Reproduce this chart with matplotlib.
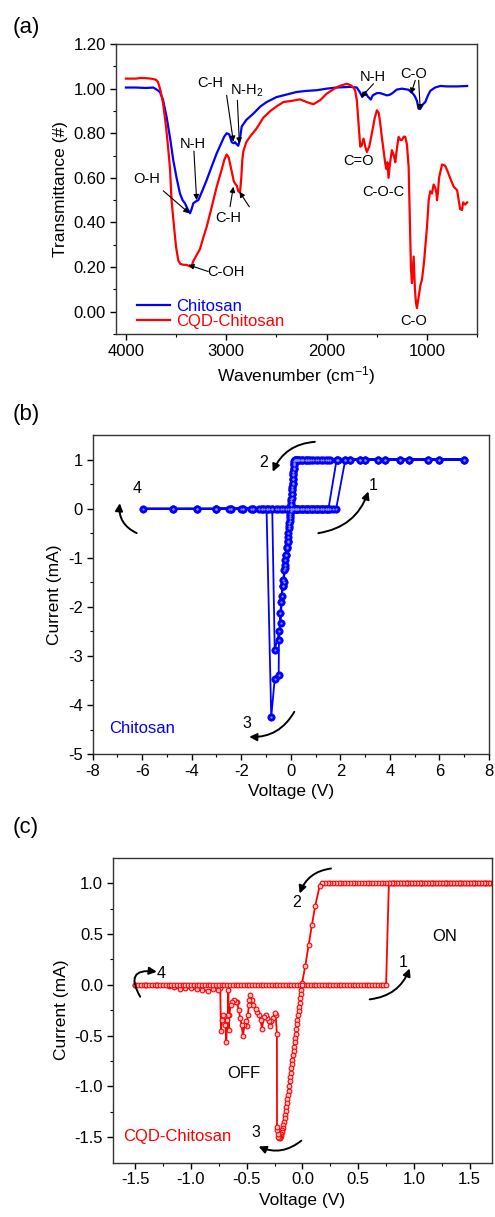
import numpy as np
import matplotlib.pyplot as plt

plt.rcParams['font.family'] = ['Liberation Sans', 'DejaVu Sans']
plt.rcParams['axes.unicode_minus'] = False
plt.rcParams['mathtext.fontset'] = 'custom'
plt.rcParams['mathtext.rm'] = 'Liberation Sans'
plt.rcParams['mathtext.it'] = 'Liberation Sans:italic'

# ---------------- (a) FTIR data ----------------
wn_chi = [4000, 3900, 3800, 3727, 3690, 3661, 3630, 3594, 3560, 3528, 3495, 3461, 3435, 3411,
          3385, 3361, 3345, 3328, 3300, 3278, 3240, 3195, 3150, 3095, 3050, 3020, 2996, 2970,
          2946, 2925, 2913, 2895, 2880, 2865, 2846, 2800, 2730, 2660, 2597, 2500, 2430, 2300,
          2200, 2098, 2000, 1900, 1765, 1700, 1670, 1645, 1630, 1616, 1590, 1560, 1540, 1499,
          1466, 1433, 1399, 1375, 1350, 1300, 1250, 1183, 1160, 1140, 1120, 1100, 1084, 1067,
          1040, 1017, 990, 967, 920, 867, 800, 700, 600]
t_chi = [1.005, 1.005, 1.003, 1.005, 0.995, 0.985, 0.95, 0.873, 0.78, 0.68, 0.60, 0.53, 0.50, 0.486,
         0.46, 0.441, 0.46, 0.486, 0.495, 0.50, 0.54, 0.59, 0.645, 0.71, 0.755, 0.785, 0.80, 0.795,
         0.76, 0.755, 0.76, 0.75, 0.744, 0.77, 0.83, 0.86, 0.888, 0.92, 0.94, 0.962, 0.97, 0.985,
         0.99, 0.993, 1.0, 1.005, 1.008, 1.005, 0.985, 0.963, 0.975, 0.985, 0.965, 0.951, 0.97, 0.98,
         0.98, 0.975, 0.97, 0.972, 0.978, 0.996, 1.0, 0.995, 0.985, 0.978, 0.965, 0.945, 0.91, 0.91,
         0.93, 0.94, 0.97, 0.99, 1.005, 1.012, 1.01, 1.01, 1.012]

wn_cqd = [4000, 3900, 3850, 3800, 3750, 3700, 3680, 3660, 3640, 3628, 3600, 3580, 3560, 3545,
          3520, 3500, 3478, 3460, 3445, 3420, 3400, 3370, 3345, 3330, 3300, 3262, 3230, 3195,
          3150, 3095, 3050, 3020, 2996, 2975, 2960, 2946, 2925, 2913, 2895, 2880, 2863, 2850,
          2840, 2829, 2800, 2763, 2700, 2630, 2560, 2500, 2430, 2350, 2264, 2200, 2131, 2060,
          1998, 1940, 1898, 1850, 1798, 1760, 1732, 1715, 1699, 1682, 1665, 1650, 1632, 1615,
          1599, 1575, 1549, 1520, 1499, 1480, 1466, 1449, 1433, 1416, 1405, 1395, 1383, 1370,
          1350, 1330, 1316, 1300, 1283, 1265, 1250, 1230, 1217, 1200, 1183, 1170, 1160, 1150,
          1140, 1133, 1120, 1110, 1100, 1085, 1065, 1050, 1030, 1017, 1000, 983, 967, 950,
          934, 917, 905, 900, 890, 880, 850, 820, 800, 770, 734, 700, 684, 670, 651, 640,
          620, 600]
t_cqd = [1.045, 1.045, 1.048, 1.047, 1.045, 1.04, 1.03, 1.0, 0.96, 0.93, 0.83, 0.74, 0.64, 0.50,
         0.38, 0.29, 0.23, 0.215, 0.212, 0.21, 0.21, 0.205, 0.20, 0.225, 0.25, 0.28, 0.33, 0.38,
         0.46, 0.56, 0.63, 0.68, 0.705, 0.69, 0.66, 0.63, 0.585, 0.575, 0.565, 0.54, 0.535, 0.60,
         0.68, 0.72, 0.76, 0.785, 0.82, 0.87, 0.90, 0.92, 0.94, 0.945, 0.952, 0.94, 0.93, 0.95,
         0.978, 0.995, 1.007, 1.015, 1.022, 1.015, 1.005, 0.99, 0.948, 0.844, 0.74, 0.745, 0.776, 0.74,
         0.716, 0.74, 0.80, 0.87, 0.903, 0.89, 0.845, 0.78, 0.724, 0.665, 0.64, 0.67, 0.60, 0.66,
         0.724, 0.70, 0.67, 0.73, 0.784, 0.77, 0.77, 0.785, 0.784, 0.75, 0.65, 0.40, 0.20, 0.128,
         0.20, 0.247, 0.10, 0.04, 0.016, 0.06, 0.12, 0.143, 0.22, 0.29, 0.38, 0.50, 0.54, 0.53,
         0.57, 0.555, 0.53, 0.50, 0.54, 0.60, 0.66, 0.655, 0.635, 0.60, 0.56, 0.545, 0.50, 0.46, 0.456, 0.49,
         0.48, 0.49]

# ---------------- (b) Chitosan I-V (two sweeps) ----------------
b_off1 = [0, 0.05, 0.1, 0.15, 0.2, 0.25, 0.3, 0.4, 0.5, 0.6, 0.7, 0.8, 0.9, 1.0, 1.1, 1.2, 1.3, 1.4, 1.52]
b_on1 = [1.85, 2.39, 3.0, 3.8, 4.75, 6.0, 7.0, 6.0, 4.75, 3.8, 3.0, 2.39, 1.85, 1.5, 1.3, 1.1, 0.9,
         0.75, 0.6, 0.5, 0.4, 0.3, 0.25, 0.2, 0.15]
b_dec1_v = [0.14, 0.13, 0.12, 0.11, 0.1, 0.09, 0.08, 0.07, 0.06, 0.05, 0.04, 0.03, 0.02, 0.01, 0.0,
            -0.02, -0.04, -0.06, -0.08, -0.10, -0.13, -0.17, -0.2, -0.24, -0.28, -0.33, -0.36,
            -0.41, -0.48, -0.49, -0.65, -0.79]
b_dec1_i = [0.97, 0.93, 0.88, 0.82, 0.75, 0.68, 0.6, 0.52, 0.45, 0.38, 0.3, 0.22, 0.15, 0.08, 0.0,
            -0.1, -0.2, -0.3, -0.4, -0.57, -0.68, -0.78, -0.94, -1.15, -1.49, -1.58, -1.79,
            -2.34, -2.68, -3.39, -3.47, -4.25]
b_neg1 = [-0.98, -1.18, -1.51, -1.92, -2.43, -3.02, -3.8, -4.77, -5.98,
          -4.77, -3.8, -3.02, -2.43, -1.92, -1.51, -1.18, -0.98, -0.75, -0.6, -0.5, -0.4, -0.3,
          -0.2, -0.1, 0]
b_off2 = [0.1, 0.2, 0.3, 0.4, 0.5, 0.6, 0.7, 0.8, 0.9, 1.0, 1.1, 1.2, 1.3, 1.4, 1.5, 1.6, 1.7, 1.83]
b_on2 = [2.2, 2.79, 3.53, 4.41, 5.55, 7.0, 5.55, 4.41, 3.53, 2.79, 2.2, 1.9, 1.6, 1.4, 1.2, 1.0,
         0.8, 0.7, 0.6, 0.45, 0.35, 0.28, 0.22, 0.17]
b_dec2_v = [0.13, 0.115, 0.1, 0.085, 0.07, 0.055, 0.04, 0.025, 0.01, -0.01, -0.03, -0.05, -0.07,
            -0.1, -0.13, -0.16, -0.19, -0.22, -0.25, -0.27, -0.3, -0.33, -0.38, -0.43, -0.46, -0.65]
b_dec2_i = [0.9, 0.8, 0.7, 0.6, 0.5, 0.4, 0.3, 0.2, 0.1, -0.05, -0.15, -0.25, -0.35,
            -0.5, -0.65, -0.8, -0.95, -1.05, -1.21, -1.25, -1.45, -1.58, -1.9, -2.13, -2.5, -2.88]
b_neg2 = [-0.75, -0.9, -1.1, -1.3, -1.6, -2.0, -2.5, -3.0]

v_b = b_off1 + b_on1 + b_dec1_v + b_neg1 + b_off2 + b_on2 + b_dec2_v + b_neg2
i_b = [0.0] * len(b_off1) + [1.0] * len(b_on1) + b_dec1_i + [0.0] * len(b_neg1) + \
      [0.0] * len(b_off2) + [1.0] * len(b_on2) + b_dec2_i + [0.0] * len(b_neg2)

# ---------------- (c) CQD-Chitosan I-V ----------------
v_off_neg = [-1.5, -1.475, -1.45, -1.425, -1.4, -1.375, -1.35, -1.325, -1.3, -1.275, -1.25, -1.225,
             -1.2, -1.175, -1.15, -1.125, -1.1, -1.075, -1.05, -1.025, -1.0, -0.975, -0.95, -0.925,
             -0.9, -0.875, -0.85, -0.825, -0.8, -0.775, -0.75, -0.725, -0.7, -0.675, -0.65, -0.625,
             -0.6, -0.575, -0.55, -0.525, -0.5, -0.475, -0.45, -0.425, -0.4, -0.375, -0.35, -0.325,
             -0.3, -0.275, -0.25, -0.225, -0.2, -0.175, -0.15, -0.125, -0.1, -0.075, -0.05, -0.025, 0.0]
v_off_pos = [0.0, 0.025, 0.05, 0.075, 0.1, 0.125, 0.15, 0.175, 0.2, 0.225, 0.25, 0.275, 0.3, 0.325,
             0.35, 0.375, 0.4, 0.425, 0.45, 0.475, 0.5, 0.525, 0.55, 0.575, 0.6, 0.625, 0.65, 0.675,
             0.7, 0.725, 0.75]
v_on = [0.775, 0.8, 0.825, 0.85, 0.875, 0.9, 0.925, 0.95, 0.975, 1.0, 1.025, 1.05, 1.075, 1.1,
        1.125, 1.15, 1.175, 1.2, 1.225, 1.25, 1.275, 1.3, 1.325, 1.35, 1.375, 1.4, 1.425, 1.45,
        1.475, 1.5, 1.525, 1.55, 1.575, 1.6, 1.625, 1.65, 1.675, 1.7]
v_dec = [0.154, 0.115, 0.085, 0.056, 0.026, -0.004, -0.01, -0.015, -0.02, -0.025, -0.03, -0.035,
         -0.04, -0.045, -0.05, -0.055, -0.06, -0.065, -0.07, -0.075, -0.08, -0.085, -0.09, -0.095,
         -0.10, -0.105, -0.11, -0.115, -0.12, -0.125, -0.13, -0.135, -0.14, -0.145, -0.15, -0.155,
         -0.16, -0.165, -0.17, -0.175, -0.18, -0.185, -0.19, -0.195, -0.20, -0.205, -0.21, -0.215,
         -0.22, -0.225, -0.228]
i_dec = [0.97, 0.78, 0.59, 0.39, 0.19, 0.014, -0.05, -0.09, -0.13, -0.18, -0.22, -0.26,
         -0.30, -0.35, -0.39, -0.43, -0.48, -0.52, -0.56, -0.61, -0.65, -0.69, -0.74, -0.78,
         -0.82, -0.87, -0.91, -0.95, -1.0, -1.04, -1.08, -1.12, -1.16, -1.20, -1.24, -1.28,
         -1.31, -1.35, -1.38, -1.41, -1.43, -1.45, -1.47, -1.49, -1.50, -1.51, -1.51, -1.50,
         -1.47, -1.43, -1.40]
v_noise = [-0.229, -0.24, -0.25, -0.265, -0.28, -0.29, -0.30, -0.318, -0.33, -0.345, -0.363, -0.375,
           -0.39, -0.408, -0.42, -0.44, -0.455, -0.468, -0.475, -0.48, -0.49, -0.498, -0.51, -0.52,
           -0.534, -0.545, -0.558, -0.57, -0.588, -0.60, -0.618, -0.63, -0.645, -0.655, -0.663,
           -0.665, -0.668, -0.675, -0.683, -0.69, -0.70, -0.71, -0.72, -0.731, -0.737, -0.76, -0.8,
           -0.85, -0.9, -0.95, -1.0, -1.05, -1.1, -1.15, -1.2, -1.3, -1.4, -1.5]
i_noise = [-0.48, -0.3, -0.28, -0.33, -0.36, -0.41, -0.36, -0.33, -0.30, -0.32, -0.43, -0.35,
           -0.30, -0.265, -0.24, -0.2, -0.15, -0.10, -0.15, -0.2, -0.3, -0.41, -0.36, -0.4,
           -0.50, -0.4, -0.33, -0.25, -0.167, -0.17, -0.15, -0.17, -0.2, -0.3, -0.445,
           -0.05, -0.3, -0.35, -0.56, -0.4, -0.31, -0.3, -0.35, -0.45, -0.035, -0.05, -0.04,
           -0.06, -0.05, -0.04, -0.035, -0.03, -0.04, -0.02, -0.01, 0.0, 0.0, 0.0]

back_on = v_on[::-1] + v_off_pos[:6:-1]
v_c = v_off_pos + v_on + back_on + v_dec + v_noise + v_off_neg
i_c = [0.0] * len(v_off_pos) + [1.0] * len(v_on) + [1.0] * len(back_on) + i_dec + i_noise + \
      [0.0] * len(v_off_neg)

fig = plt.figure(figsize=(4.95, 12.17), dpi=100)
ax1 = fig.add_axes([0.234, 0.7256, 0.730, 0.2382])
ax2 = fig.add_axes([0.187, 0.3804, 0.801, 0.2622])
ax3 = fig.add_axes([0.228, 0.0446, 0.766, 0.2506])

for ax in (ax1, ax2, ax3):
    ax.tick_params(which='major', direction='out', length=4, width=1, labelsize=12, pad=3)
    ax.tick_params(which='minor', direction='out', length=2.5, width=0.8)
    for s in ax.spines.values():
        s.set_color('#333333')
        s.set_linewidth(1)

# ---- (a)
ax1.plot(wn_chi, t_chi, color='#0000ff', lw=1.6, label='Chitosan')
ax1.plot(wn_cqd, t_cqd, color='#ff0000', lw=1.6, label='CQD-Chitosan')
ax1.set_xlim(4100, 500)
ax1.set_ylim(-0.1, 1.2)
ax1.set_xticks([4000, 3000, 2000, 1000])
ax1.set_xticks([3500, 2500, 1500, 500], minor=True)
ax1.set_yticks([0, 0.2, 0.4, 0.6, 0.8, 1.0, 1.2])
ax1.set_yticks([-0.1, 0.1, 0.3, 0.5, 0.7, 0.9, 1.1], minor=True)
ax1.set_yticklabels(['%.2f' % v for v in [0, 0.2, 0.4, 0.6, 0.8, 1.0, 1.2]])
ax1.set_xlabel('Wavenumber (cm$^{-1}$)', fontsize=12.5)
ax1.set_ylabel('Transmittance (#)', fontsize=12.5)
ax1.legend(loc='lower left', bbox_to_anchor=(0.04, -0.005), frameon=False, fontsize=12,
           handlelength=2.0, handletextpad=0.35, labelspacing=0.0, borderaxespad=0,
           labelcolor='linecolor')

arr_a = dict(arrowstyle='-|>', color='k', lw=0.8, mutation_scale=8, shrinkA=0, shrinkB=0)
fa = 10.5
ax1.text(3162, 1.025, 'C-H', fontsize=fa, ha='center', va='center')
ax1.annotate('', xy=(2929, 0.762), xytext=(2996, 0.97), arrowprops=arr_a)
ax1.text(2796, 0.992, 'N-H$_2$', fontsize=fa, ha='center', va='center')
ax1.annotate('', xy=(2869, 0.754), xytext=(2889, 0.948), arrowprops=arr_a)
ax1.text(3335, 0.751, 'N-H', fontsize=fa, ha='center', va='center')
ax1.annotate('', xy=(3295, 0.50), xytext=(3322, 0.72), arrowprops=arr_a)
ax1.text(3794, 0.593, 'O-H', fontsize=fa, ha='center', va='center')
ax1.annotate('', xy=(3368, 0.441), xytext=(3628, 0.542), arrowprops=arr_a)
ax1.text(2976, 0.419, 'C-H', fontsize=fa, ha='center', va='center')
ax1.annotate('', xy=(2929, 0.56), xytext=(2962, 0.471), arrowprops=arr_a)
ax1.annotate('', xy=(2869, 0.538), xytext=(2770, 0.47), arrowprops=arr_a)
ax1.text(3185, 0.177, 'C-OH', fontsize=fa, ha='left', va='center')
ax1.annotate('', xy=(3378, 0.21), xytext=(3180, 0.18), arrowprops=arr_a)
ax1.text(1539, 1.052, 'N-H', fontsize=fa, ha='center', va='center')
ax1.annotate('', xy=(1659, 0.96), xytext=(1533, 1.022), arrowprops=arr_a)
ax1.text(1133, 1.064, 'C-O', fontsize=fa, ha='center', va='center')
ax1.annotate('', xy=(1160, 0.977), xytext=(1117, 1.037), arrowprops=arr_a)
ax1.annotate('', xy=(1067, 0.903), xytext=(1083, 1.037), arrowprops=arr_a)
ax1.text(1682, 0.675, 'C=O', fontsize=fa, ha='center', va='center')
ax1.text(1439, 0.538, 'C-O-C', fontsize=fa, ha='center', va='center')
ax1.text(1133, -0.04, 'C-O', fontsize=fa, ha='center', va='center')

# ---- (b)
ax2.plot(v_b, i_b, color='#0000ff', lw=1.3, marker='o', ms=5.3, mfc='#0000ff', mec='#0000ff', mew=0.5)
ax2.plot(v_b, i_b, ls='none', marker='o', ms=1.6, mfc='#8c8cff', mec='none')
ax2.set_xlim(-8, 8)
ax2.set_ylim(-5, 1.5)
ax2.set_xticks([-8, -6, -4, -2, 0, 2, 4, 6, 8])
ax2.set_xticks([-7, -5, -3, -1, 1, 3, 5, 7], minor=True)
ax2.set_yticks([-5, -4, -3, -2, -1, 0, 1])
ax2.set_yticks([-4.5, -3.5, -2.5, -1.5, -0.5, 0.5], minor=True)
ax2.set_xlabel('Voltage (V)', fontsize=12.5)
ax2.set_ylabel('Current (mA)', fontsize=12.5)
ax2.text(-7.33, -4.48, 'Chitosan', color='#0000ff', fontsize=12, ha='left', va='center')

arr_c = dict(arrowstyle='-|>', color='k', lw=1.4, mutation_scale=11, shrinkA=0, shrinkB=0)
fn = 11.5
ax2.text(3.33, 0.48, '1', fontsize=fn, ha='center', va='center')
ax2.annotate('', xy=(3.13, 0.35), xytext=(1.11, -0.5),
             arrowprops=dict(arr_c, connectionstyle='arc3,rad=0.3'))
ax2.text(-1.11, 0.94, '2', fontsize=fn, ha='center', va='center')
ax2.annotate('', xy=(-0.73, 0.75), xytext=(0.97, 1.36),
             arrowprops=dict(arr_c, connectionstyle='arc3,rad=0.3'))
ax2.text(-1.78, -4.37, '3', fontsize=fn, ha='center', va='center')
ax2.annotate('', xy=(-1.68, -4.65), xytext=(0.14, -4.14),
             arrowprops=dict(arr_c, connectionstyle='arc3,rad=-0.3'))
ax2.text(-6.22, 0.41, '4', fontsize=fn, ha='center', va='center')
ax2.annotate('', xy=(-6.9, 0.11), xytext=(-6.22, -0.5),
             arrowprops=dict(arr_c, connectionstyle='arc3,rad=-0.35'))

# ---- (c)
ax3.plot(v_c, i_c, color='#ff0000', lw=1.3, marker='o', ms=3.4, mfc='#ffc8c8', mec='#ff0000', mew=0.8)
ax3.set_xlim(-1.7, 1.7)
ax3.set_ylim(-1.75, 1.25)
ax3.set_xticks([-1.5, -1.0, -0.5, 0.0, 0.5, 1.0, 1.5])
ax3.set_xticks([-1.25, -0.75, -0.25, 0.25, 0.75, 1.25], minor=True)
ax3.set_yticks([-1.5, -1.0, -0.5, 0.0, 0.5, 1.0])
ax3.set_yticks([-1.25, -0.75, -0.25, 0.25, 0.75], minor=True)
ax3.set_xticklabels(['%.1f' % v for v in [-1.5, -1.0, -0.5, 0.0, 0.5, 1.0, 1.5]])
ax3.set_yticklabels(['%.1f' % v for v in [-1.5, -1.0, -0.5, 0.0, 0.5, 1.0]])
ax3.set_xlabel('Voltage (V)', fontsize=12.5)
ax3.set_ylabel('Current (mA)', fontsize=12.5)
ax3.text(-1.605, -1.49, 'CQD-Chitosan', color='#ff0000', fontsize=12, ha='left', va='center')
ax3.text(1.276, 0.479, 'ON', fontsize=12, ha='center', va='center')
ax3.text(-0.528, -0.871, 'OFF', fontsize=12, ha='center', va='center')

ax3.text(0.899, 0.217, '1', fontsize=fn, ha='center', va='center')
ax3.annotate('', xy=(0.962, 0.161), xytext=(0.603, -0.143),
             arrowprops=dict(arr_c, connectionstyle='arc3,rad=0.3'))
ax3.text(-0.049, 0.807, '2', fontsize=fn, ha='center', va='center')
ax3.annotate('', xy=(-0.025, 0.898), xytext=(0.256, 1.144),
             arrowprops=dict(arr_c, connectionstyle='arc3,rad=0.3'))
ax3.text(-0.414, -1.454, '3', fontsize=fn, ha='center', va='center')
ax3.annotate('', xy=(-0.393, -1.59), xytext=(-0.01, -1.533),
             arrowprops=dict(arr_c, connectionstyle='arc3,rad=-0.3'))
ax3.text(-1.27, 0.112, '4', fontsize=fn, ha='center', va='center')
ax3.annotate('', xy=(-1.306, 0.128), xytext=(-1.455, -0.117),
             arrowprops=dict(arr_c, connectionstyle='arc3,rad=-1.0'))

fig.text(0.025, 1 - 28 / 1217, '(a)', fontsize=16, va='center', ha='left')
fig.text(0.025, 1 - 415 / 1217, '(b)', fontsize=16, va='center', ha='left')
fig.text(0.025, 1 - 828 / 1217, '(c)', fontsize=16, va='center', ha='left')

fig.savefig('out.png', dpi=100)
